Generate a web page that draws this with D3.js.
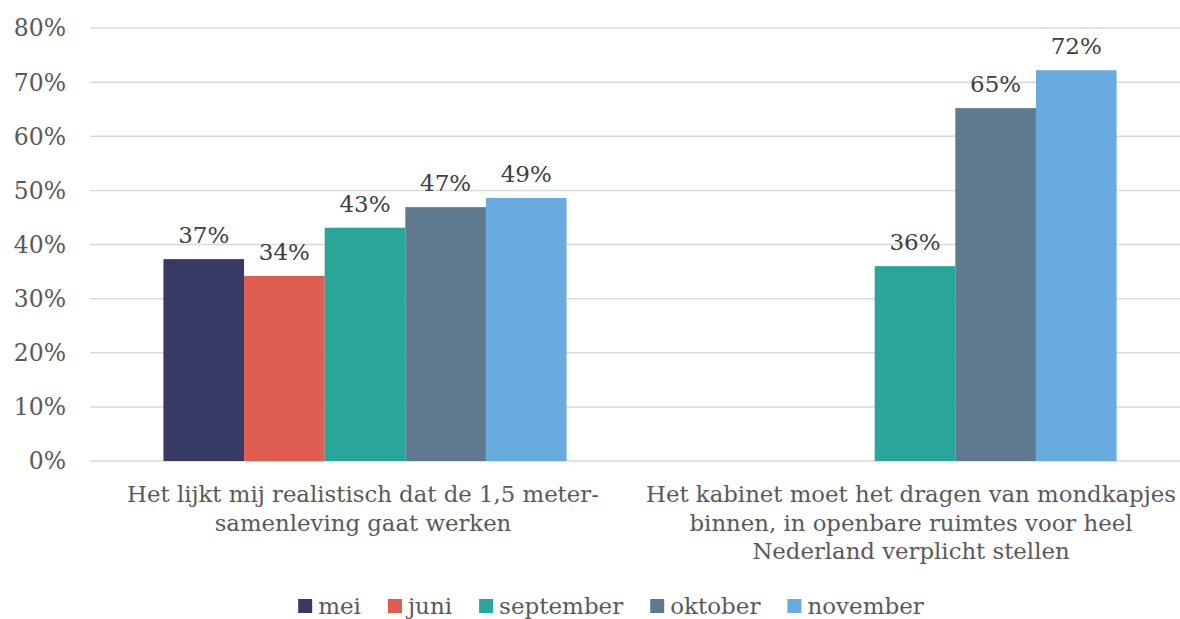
<!DOCTYPE html>
<html>
<head>
<meta charset="utf-8">
<script src="https://cdn.jsdelivr.net/npm/d3@7"></script>
<style>
  body { margin: 0; background: #fff; }
  svg { display: block; font-family: "DejaVu Serif", serif; }
</style>
</head>
<body>
<div id="chart"></div>
<script>
const categories = [
  ['Het lijkt mij realistisch dat de 1,5 meter-', 'samenleving gaat werken'],
  ['Het kabinet moet het dragen van mondkapjes', 'binnen, in openbare ruimtes voor heel', 'Nederland verplicht stellen']
];
const months = ['mei', 'juni', 'september', 'oktober', 'november'];
const colors = ['#383a66', '#de5c50', '#2aa59a', '#5f7a8f', '#68abdf'];
// values per month, one entry per category (null = not asked)
const mei = [37.3, null];
const juni = [34.2, null];
const september = [43.1, 36.0];
const oktober = [46.9, 65.2];
const november = [48.6, 72.2];
const series = [mei, juni, september, oktober, november];
const yTicks = [0, 10, 20, 30, 40, 50, 60, 70, 80];

const width = 1180, height = 619;
const svg = d3.select('#chart').append('svg')
  .attr('width', width)
  .attr('height', height);

const y = d3.scaleLinear().domain([0, 80]).range([461, 28]);

const x0 = d3.scaleBand()
  .domain(d3.range(categories.length))
  .range([90, 1190])
  .paddingInner(0.267)
  .paddingOuter(0.1335);

const x1 = d3.scaleBand()
  .domain(months)
  .range([0, x0.bandwidth()]);

// gridlines
svg.append('g')
  .selectAll('line')
  .data(yTicks)
  .join('line')
  .attr('x1', 90)
  .attr('x2', 1180)
  .attr('y1', d => y(d))
  .attr('y2', d => y(d))
  .attr('stroke', '#d9d9d9')
  .attr('stroke-width', 1.5);

// y axis labels
svg.append('g')
  .selectAll('text')
  .data(yTicks)
  .join('text')
  .attr('x', 66)
  .attr('y', d => y(d))
  .attr('dy', '0.36em')
  .attr('text-anchor', 'end')
  .attr('fill', '#595959')
  .style('font-size', '23.5px')
  .text(d => d + '%');

// bars
const groups = svg.append('g')
  .selectAll('g')
  .data(categories.map((c, i) => i))
  .join('g')
  .attr('transform', i => `translate(${x0(i)},0)`);

groups.each(function (ci) {
  const g = d3.select(this);
  const data = months.map((m, si) => ({ m, v: series[si][ci], color: colors[si] }))
    .filter(d => d.v != null);

  g.selectAll('rect')
    .data(data)
    .join('rect')
    .attr('x', d => x1(d.m))
    .attr('width', x1.bandwidth())
    .attr('y', d => y(d.v))
    .attr('height', d => y(0) - y(d.v))
    .attr('fill', d => d.color);

  g.selectAll('text')
    .data(data)
    .join('text')
    .attr('x', d => x1(d.m) + x1.bandwidth() / 2)
    .attr('y', d => y(d.v) - 16)
    .attr('text-anchor', 'middle')
    .attr('fill', '#404040')
    .style('font-size', '23px')
    .text(d => Math.round(d.v) + '%');
});

// category labels (shifted a bit left so the long line fits)
svg.append('g')
  .selectAll('text')
  .data(categories)
  .join('text')
  .attr('x', (d, i) => x0(i) + x0.bandwidth() / 2 - 2 - i * 2)
  .attr('y', 502)
  .attr('text-anchor', 'middle')
  .attr('fill', '#595959')
  .style('font-size', '22.8px')
  .each(function (lines) {
    d3.select(this).selectAll('tspan')
      .data(lines)
      .join('tspan')
      .attr('x', d3.select(this).attr('x'))
      .attr('dy', (d, i) => i === 0 ? 0 : 28.5)
      .text(d => d);
  });

// legend
const legend = svg.append('g');
const items = legend.selectAll('g')
  .data(months)
  .join('g');

items.append('rect')
  .attr('width', 14)
  .attr('height', 14)
  .attr('y', 599)
  .attr('fill', (d, i) => colors[i]);

items.append('text')
  .attr('x', 20)
  .attr('y', 614)
  .attr('fill', '#595959')
  .style('font-size', '23px')
  .text(d => d);

let lx = 0;
items.each(function () {
  const w = d3.select(this).select('text').node().getComputedTextLength();
  d3.select(this).attr('transform', `translate(${lx},0)`);
  lx += 20 + w + 27;
});
const legendWidth = lx - 27;
legend.attr('transform', `translate(${611 - legendWidth / 2},0)`);
</script>
</body>
</html>
